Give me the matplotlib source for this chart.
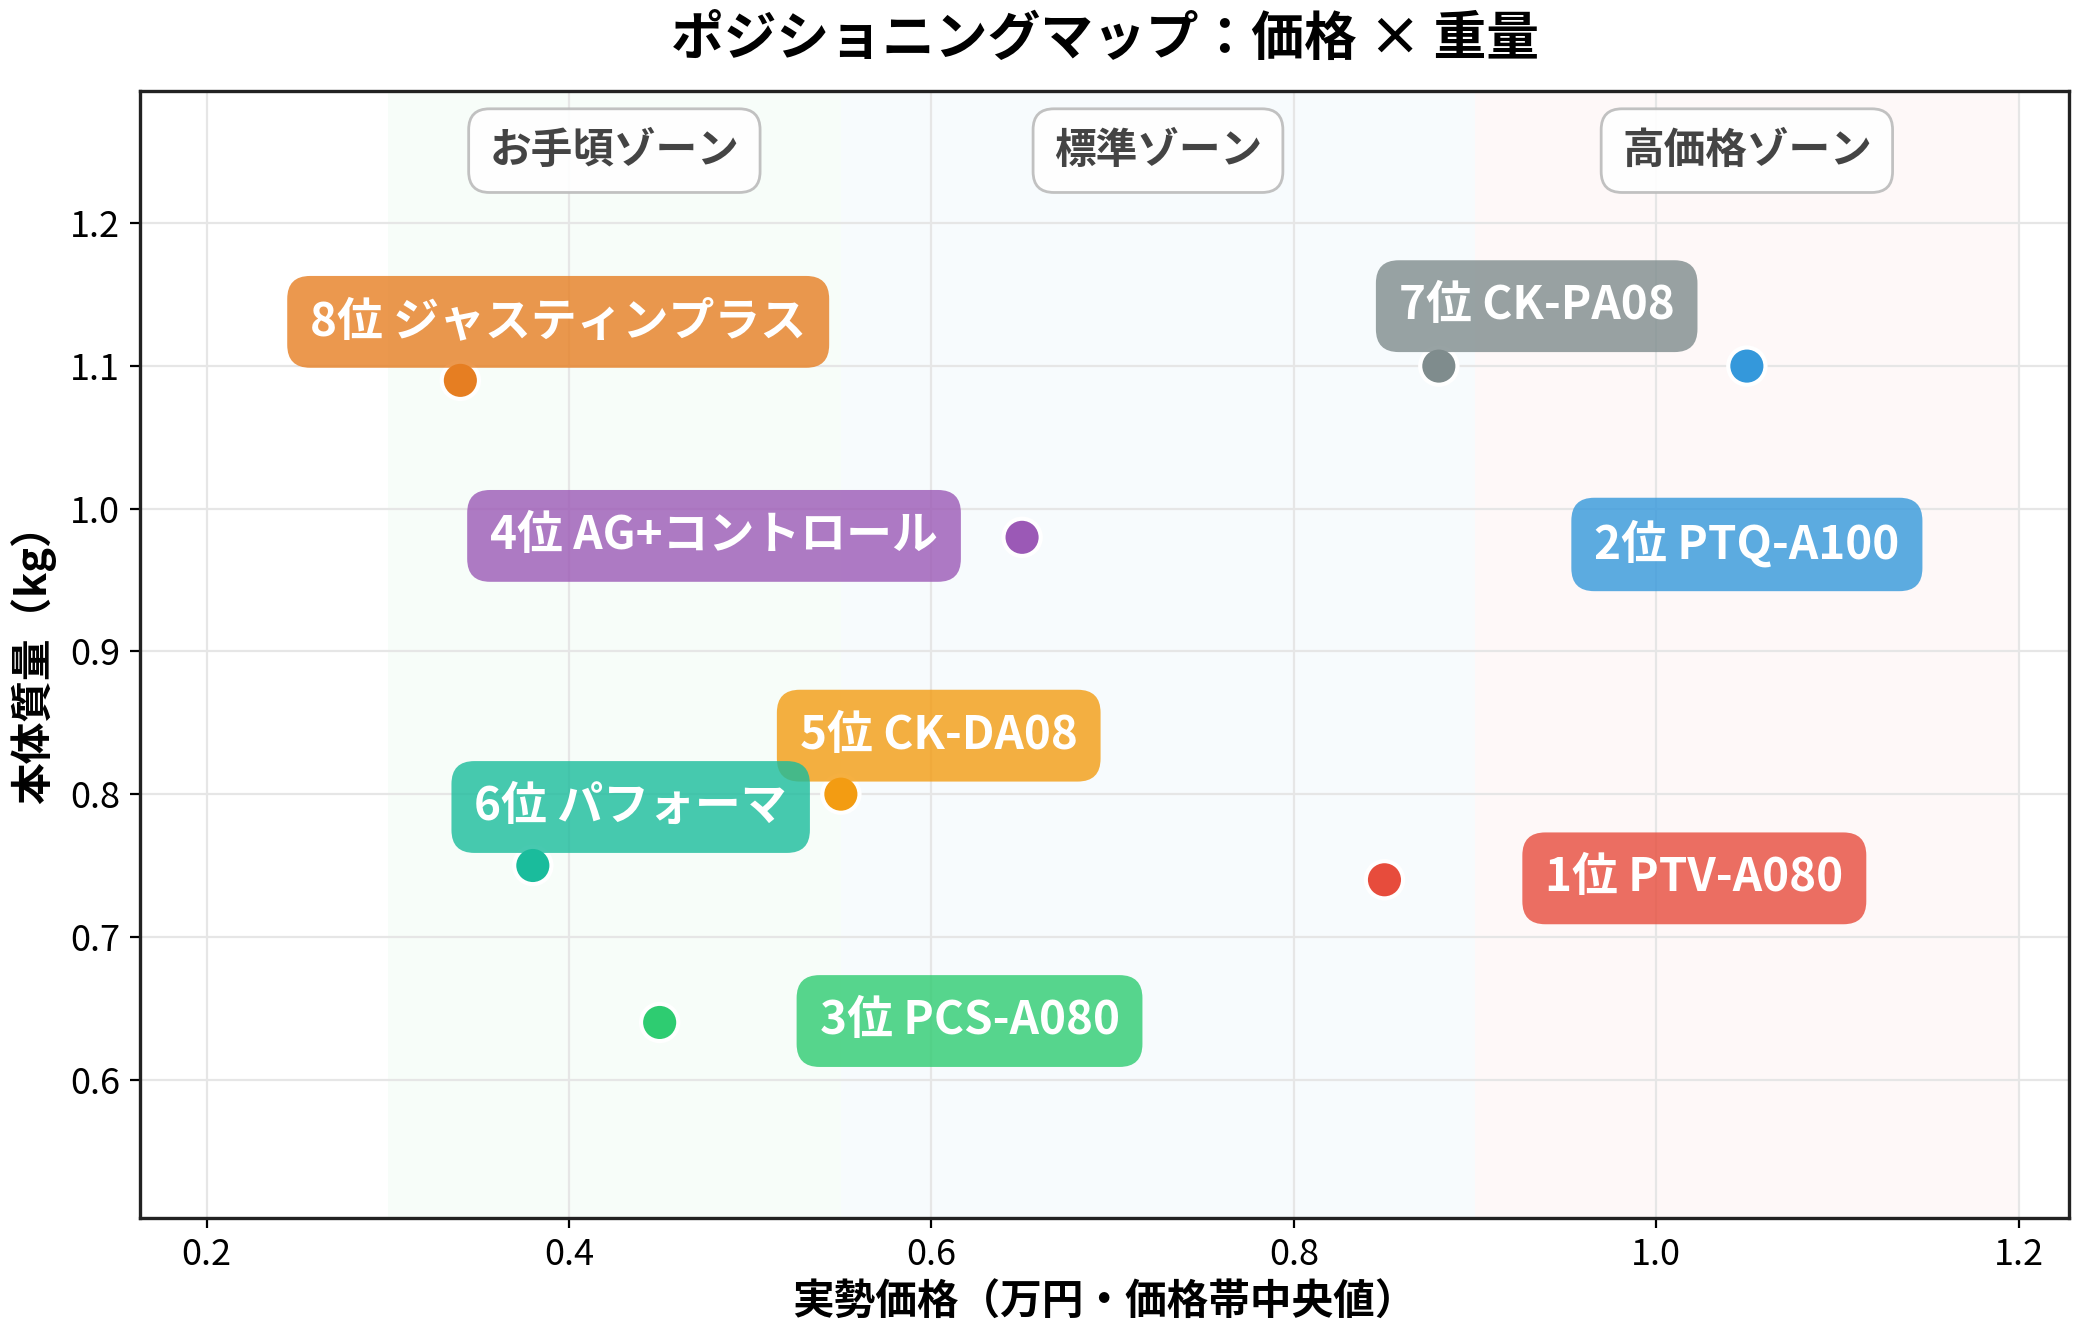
import matplotlib
matplotlib.use("Agg")
import matplotlib.pyplot as plt

plt.rcParams['font.family'] = ['Noto Sans CJK JP', 'DejaVu Sans']

labels = ["1位 PTV-A080", "2位 PTQ-A100", "3位 PCS-A080", "4位 AG+コントロール",
          "5位 CK-DA08", "6位 パフォーマ", "7位 CK-PA08", "8位 ジャスティンプラス"]
prices = [0.85, 1.05, 0.45, 0.65, 0.55, 0.38, 0.88, 0.34]
weights = [0.74, 1.10, 0.64, 0.98, 0.80, 0.75, 1.10, 1.09]
colors = ["#e74c3c", "#3498db", "#2ecc71", "#9b59b6", "#f39c12", "#1abc9c", "#7f8c8d", "#e67e22"]
label_x = [1.021, 1.05, 0.621, 0.48, 0.604, 0.434, 0.934, 0.394]
label_y = [0.741, 0.975, 0.641, 0.981, 0.841, 0.791, 1.142, 1.131]

zone_names = ["お手頃ゾーン", "標準ゾーン", "高価格ゾーン"]
zone_start = [0.30, 0.55, 0.90]
zone_end = [0.55, 0.90, 1.20]
zone_colors = ["#2ecc71", "#3498db", "#e74c3c"]

fig, ax = plt.subplots(figsize=(10.42, 6.67), dpi=200)
fig.subplots_adjust(left=0.067, right=0.993, top=0.932, bottom=0.087)

for zs, ze, zc, zn in zip(zone_start, zone_end, zone_colors, zone_names):
    ax.axvspan(zs, ze, color=zc, alpha=0.035, lw=0, zorder=0)
    ax.text((zs + ze) / 2, 1.251, zn, ha='center', va='center', fontsize=15,
            fontweight='bold', color='#444444', zorder=5,
            bbox=dict(boxstyle='round,pad=0.5', fc='white', ec='#bbbbbb', lw=1, alpha=0.9))

ax.scatter(prices, weights, s=180, c=colors, edgecolors='white', linewidths=1.5, zorder=4)

for lx, ly, lb, c in zip(label_x, label_y, labels, colors):
    ax.text(lx, ly, lb, ha='center', va='center', fontsize=16.5, fontweight='bold',
            color='white', zorder=6,
            bbox=dict(boxstyle='round,pad=0.5', fc=c, ec='none', alpha=0.8))

ax.set_xlim(0.163, 1.228)
ax.set_ylim(0.503, 1.293)
ax.set_xticks([0.2, 0.4, 0.6, 0.8, 1.0, 1.2])
ax.set_yticks([0.6, 0.7, 0.8, 0.9, 1.0, 1.1, 1.2])
ax.grid(True, color='#e6e6e6', lw=0.8, zorder=1)
ax.set_axisbelow(True)
ax.tick_params(labelsize=13)
for sp in ax.spines.values():
    sp.set_color('#222222')
    sp.set_linewidth(1.2)

ax.set_xlabel("実勢価格（万円・価格帯中央値）", fontsize=15, fontweight='bold', labelpad=3)
ax.set_ylabel("本体質量（kg）", fontsize=15, fontweight='bold', labelpad=5)
ax.set_title("ポジショニングマップ：価格 × 重量", fontsize=19, fontweight='bold', pad=13)

fig.savefig("out.png", dpi=200)
